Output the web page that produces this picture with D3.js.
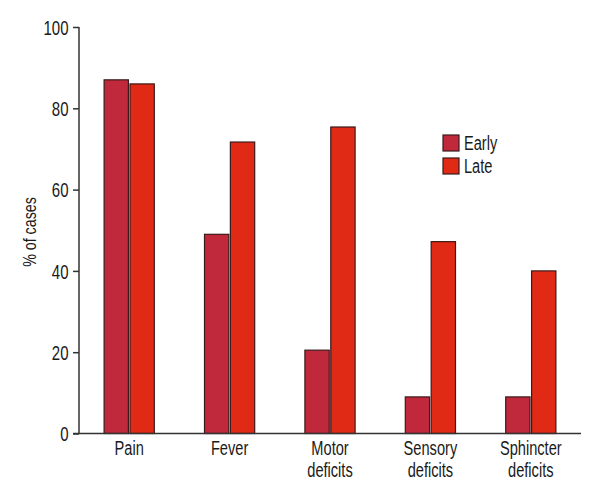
<!DOCTYPE html>
<html>
<head>
<meta charset="utf-8">
<script src="https://cdn.jsdelivr.net/npm/d3@7"></script>
<style>
  body { margin: 0; background: #fff; }
  svg text { font-family: "Liberation Sans", Arial, sans-serif; fill: #1a1a1a; }
</style>
</head>
<body>
<svg id="chart" width="600" height="500"></svg>
<script>
const categories = ["Pain", "Fever", "Motor\ndeficits", "Sensory\ndeficits", "Sphincter\ndeficits"];
const seriesNames = ["Early", "Late"];
const earlyValues = [87, 49, 20.5, 9, 9];
const lateValues = [86, 71.7, 75.4, 47.2, 40];
const yTicks = [0, 20, 40, 60, 80, 100];
const colors = ["#c0283c", "#e12a15"];

const sx = 0.75; // horizontal condensing of text
const svg = d3.select("#chart");
const plotLeft = 79, plotRight = 581, plotTop = 27, plotBottom = 433.5;

const x = d3.scaleBand().domain(categories).range([plotLeft, plotRight]).paddingInner(0.5).paddingOuter(0.25);
const xs = d3.scaleBand().domain(seriesNames).range([0, x.bandwidth()]).paddingInner(0.06);
const y = d3.scaleLinear().domain([0, 100]).range([plotBottom, plotTop]);

const data = categories.map((c, i) => ({ cat: c, vals: [earlyValues[i], lateValues[i]] }));

const g = svg.append("g");
g.selectAll("g.grp").data(data).join("g")
  .attr("class", "grp")
  .attr("transform", d => `translate(${x(d.cat)},0)`)
  .selectAll("rect").data(d => d.vals.map((v, k) => ({ s: seriesNames[k], v, k })))
  .join("rect")
  .attr("x", d => xs(d.s))
  .attr("width", xs.bandwidth())
  .attr("y", d => y(d.v))
  .attr("height", d => y(0) - y(d.v))
  .attr("fill", d => colors[d.k])
  .attr("stroke", "#3a1a1a")
  .attr("stroke-width", 1.2);

// Y axis
const yAxis = g.append("g").attr("transform", `translate(${plotLeft},0)`)
  .call(d3.axisLeft(y).tickValues(yTicks).tickSize(6).tickPadding(4));
yAxis.select(".domain").attr("d", `M0,${plotTop}V${plotBottom}`).attr("stroke", "#333").attr("stroke-width", 1.5);
yAxis.selectAll(".tick line").attr("stroke", "#333").attr("stroke-width", 1.5);
yAxis.selectAll(".tick text")
  .style("font-size", "20px").attr("fill", "#1a1a1a")
  .attr("x", -10.5 / sx).attr("dy", "0.36em")
  .attr("transform", `scale(${sx},1)`);

// X axis line
const xAxis = g.append("g").attr("transform", `translate(0,${plotBottom})`)
  .call(d3.axisBottom(x).tickSize(0).tickPadding(0));
xAxis.select(".domain").attr("d", `M${plotLeft - 6},0H${plotRight}`).attr("stroke", "#333").attr("stroke-width", 1.5);
xAxis.selectAll(".tick text").each(function(d) {
  const t = d3.select(this);
  t.text(null).attr("y", 0).attr("dy", null).style("font-size", "19.5px").attr("fill", "#1a1a1a")
    .attr("transform", `scale(${sx},1)`);
  d.split("\n").forEach((line, i) => {
    t.append("tspan").attr("x", 0).attr("y", 21.5 + i * 22).text(line);
  });
});

// Y label
svg.append("text")
  .attr("transform", `translate(36,232) rotate(-90) scale(${sx},1)`)
  .attr("text-anchor", "middle")
  .style("font-size", "19px")
  .text("% of cases");

// Legend
const legend = svg.append("g").attr("transform", "translate(443,135)");
seriesNames.forEach((s, i) => {
  const lg = legend.append("g").attr("transform", `translate(0,${i * 23})`);
  lg.append("rect").attr("width", 16).attr("height", 16)
    .attr("fill", colors[i]).attr("stroke", "#3a1a1a").attr("stroke-width", 1.2);
  lg.append("text").attr("x", 21 / sx).attr("y", 15).style("font-size", "19.5px")
    .attr("transform", `scale(${sx},1)`).text(s);
});
</script>
</body>
</html>
